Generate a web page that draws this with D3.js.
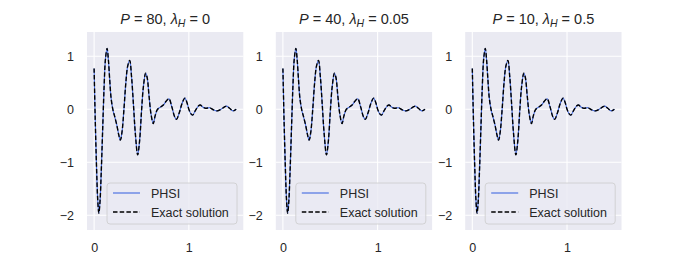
<!DOCTYPE html>
<html>
<head>
<meta charset="utf-8">
<script src="https://cdn.jsdelivr.net/npm/d3@7"></script>
<style>
  body { margin: 0; background: #fff; }
  text { font-family: "Liberation Sans", Arial, sans-serif; fill: #262626; }
</style>
</head>
<body>
<div id="chart"></div>
<script>
  // panel settings
  var panelP = ["80", "40", "10"];
  var panelLambda = ["0", "0.05", "0.5"];

  // time samples and solution values
  var tValues = [0, 0.012, 0.025, 0.038, 0.05, 0.062, 0.075, 0.09, 0.105, 0.12, 0.137, 0.15, 0.165, 0.18, 0.2, 0.215, 0.24, 0.26, 0.277, 0.295, 0.315, 0.335, 0.355, 0.376, 0.395, 0.415, 0.435, 0.46, 0.48, 0.5, 0.52, 0.544, 0.56, 0.58, 0.6, 0.624, 0.645, 0.67, 0.7, 0.73, 0.76, 0.79, 0.82, 0.85, 0.87, 0.9, 0.93, 0.958, 0.98, 1.0, 1.02, 1.04, 1.07, 1.1, 1.12, 1.15, 1.18, 1.22, 1.26, 1.3, 1.34, 1.38, 1.4, 1.43, 1.466, 1.5];
  var exactValues = [0.77, -0.2, -1.05, -1.7, -1.96, -1.75, -1.2, -0.4, 0.4, 0.95, 1.15, 0.95, 0.55, 0.2, -0.02, -0.12, -0.3, -0.48, -0.58, -0.42, 0.0, 0.5, 0.82, 0.92, 0.62, 0.1, -0.45, -0.86, -0.6, -0.05, 0.42, 0.68, 0.6, 0.25, -0.08, -0.27, -0.12, 0.0, 0.04, 0.08, 0.15, 0.2, 0.05, -0.14, -0.19, -0.06, 0.12, 0.21, 0.13, 0.0, -0.08, -0.11, -0.02, 0.06, 0.08, 0.04, 0.02, 0.03, -0.01, -0.03, 0.0, 0.05, 0.06, 0.02, -0.03, 0.0];
  var phsiValues = [0.77, -0.2, -1.05, -1.7, -1.96, -1.75, -1.2, -0.4, 0.4, 0.95, 1.15, 0.95, 0.55, 0.2, -0.02, -0.12, -0.3, -0.48, -0.58, -0.42, 0.0, 0.5, 0.82, 0.92, 0.62, 0.1, -0.45, -0.86, -0.6, -0.05, 0.42, 0.68, 0.6, 0.25, -0.08, -0.27, -0.12, 0.0, 0.04, 0.08, 0.15, 0.2, 0.05, -0.14, -0.19, -0.06, 0.12, 0.21, 0.13, 0.0, -0.08, -0.11, -0.02, 0.06, 0.08, 0.04, 0.02, 0.03, -0.01, -0.03, 0.0, 0.05, 0.06, 0.02, -0.03, 0.0];
  var xTicks = [0, 1];
  var yTicks = [-2, -1, 0, 1];
  var legendLabels = ["PHSI", "Exact solution"];

  var svgWidth = 692, svgHeight = 260;
  var panelLefts = [87, 275.8, 465.2];
  var panelWidth = 156.3;
  var plotTop = 32, plotBottom = 230;
  var plotHeight = plotBottom - plotTop;

  var svg = d3.select("#chart").append("svg")
    .attr("width", svgWidth)
    .attr("height", svgHeight);

  var xScale = d3.scaleLinear().domain([-0.075, 1.575]).range([0, panelWidth]);
  var yScale = d3.scaleLinear().domain([-2.277, 1.458]).range([plotHeight, 0]);

  var exactData = tValues.map((t, i) => [t, exactValues[i]]);
  var phsiData = tValues.map((t, i) => [t, phsiValues[i]]);

  var line = d3.line()
    .x(d => xScale(d[0]))
    .y(d => yScale(d[1]))
    .curve(d3.curveCatmullRom.alpha(0.5));

  panelLefts.forEach(function(left, k) {
    var g = svg.append("g").attr("transform", `translate(${left}, ${plotTop})`);

    g.append("rect")
      .attr("width", panelWidth)
      .attr("height", plotHeight)
      .attr("fill", "#eaeaf2");

    // grid lines
    g.selectAll(".xgrid").data(xTicks).enter().append("line")
      .attr("x1", d => xScale(d)).attr("x2", d => xScale(d))
      .attr("y1", 0).attr("y2", plotHeight)
      .attr("stroke", "#fff").attr("stroke-width", 1.1);
    g.selectAll(".ygrid").data(yTicks).enter().append("line")
      .attr("x1", 0).attr("x2", panelWidth)
      .attr("y1", d => yScale(d)).attr("y2", d => yScale(d))
      .attr("stroke", "#fff").attr("stroke-width", 1.1);

    // axes (tick labels only)
    var xAxis = g.append("g")
      .attr("transform", `translate(0, ${plotHeight})`)
      .call(d3.axisBottom(xScale).tickValues(xTicks).tickSize(0).tickPadding(13).tickFormat(d3.format("d")));
    var yAxis = g.append("g")
      .call(d3.axisLeft(yScale).tickValues(yTicks).tickSize(0).tickPadding(13)
        .tickFormat(d => d < 0 ? "\u2212" + Math.abs(d) : d));
    [xAxis, yAxis].forEach(function(a) {
      a.select(".domain").remove();
      a.selectAll("text").attr("font-size", "12.5px")
        .attr("font-family", "'Liberation Sans', Arial, sans-serif")
        .attr("fill", "#262626");
    });

    // curves
    g.append("path").datum(phsiData)
      .attr("d", line)
      .attr("fill", "none")
      .attr("stroke", "#4169e1")
      .attr("stroke-width", 1.1);
    g.append("path").datum(exactData)
      .attr("d", line)
      .attr("fill", "none")
      .attr("stroke", "#000")
      .attr("stroke-width", 1.4)
      .attr("stroke-dasharray", "4.5,2.2");

    // title
    var title = g.append("text")
      .attr("x", panelWidth / 2)
      .attr("y", 23.5 - plotTop)
      .attr("text-anchor", "middle")
      .attr("font-family", "'DejaVu Sans', sans-serif")
      .attr("font-size", "14.5px")
      .attr("fill", "#262626");
    title.append("tspan").attr("font-style", "italic").text("P");
    title.append("tspan").text(" = " + panelP[k] + ", ");
    title.append("tspan").attr("font-style", "italic").text("\u03bb");
    title.append("tspan").attr("font-style", "italic").attr("font-size", "10.5px").attr("dy", 3).text("H");
    title.append("tspan").attr("dy", -3).text(" = " + panelLambda[k]);

    // legend
    var lg = g.append("g").attr("transform", `translate(${20}, ${151})`);
    lg.append("rect")
      .attr("width", 130).attr("height", 41)
      .attr("rx", 3)
      .attr("fill", "#eaeaf2")
      .attr("fill-opacity", 0.8)
      .attr("stroke", "#cccccc")
      .attr("stroke-width", 0.8);
    legendLabels.forEach(function(label, i) {
      var yy = 10 + i * 19;
      lg.append("line")
        .attr("x1", 6).attr("x2", 33)
        .attr("y1", yy).attr("y2", yy)
        .attr("stroke", i === 0 ? "#4169e1" : "#000")
        .attr("stroke-width", i === 0 ? 1.1 : 1.4)
        .attr("stroke-dasharray", i === 0 ? null : "4.5,2.2");
      lg.append("text")
        .attr("x", 44).attr("y", yy + 4.5)
        .attr("font-size", "12.5px")
        .attr("fill", "#262626")
        .text(label);
    });
  });
</script>
</body>
</html>
